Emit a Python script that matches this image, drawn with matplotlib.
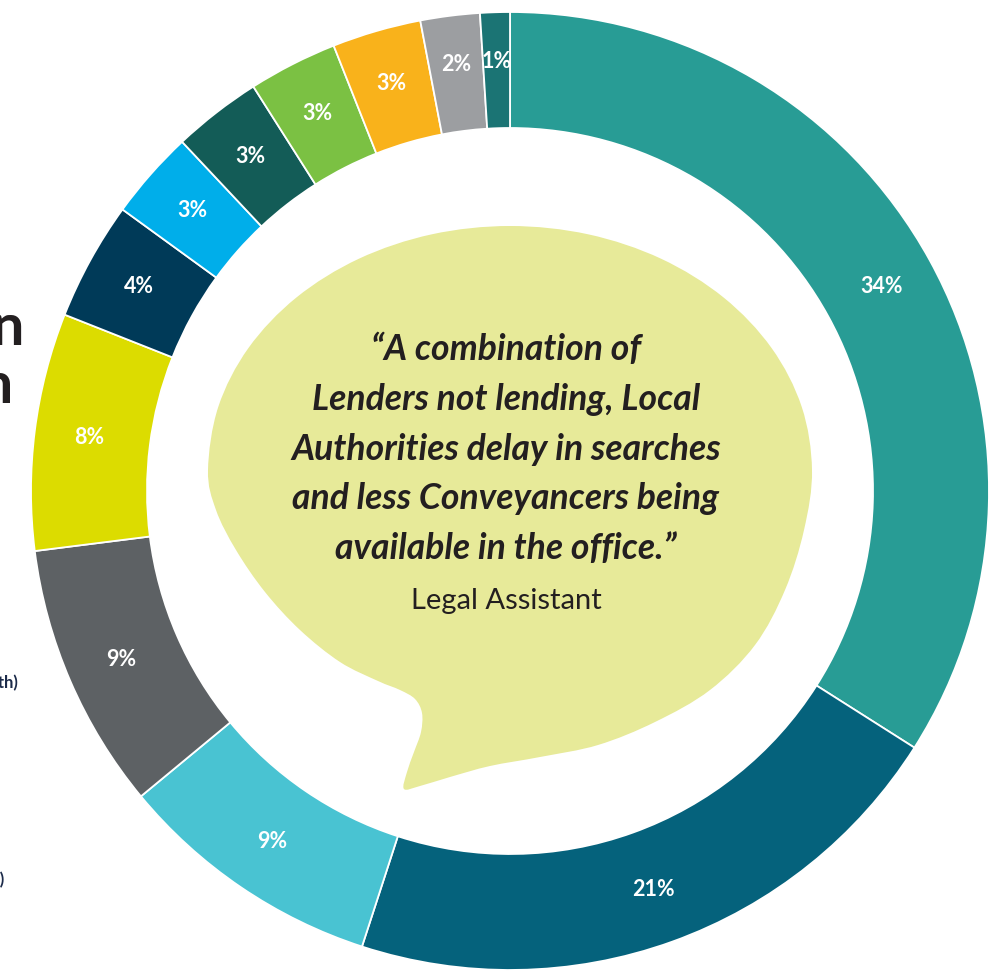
import numpy as np
import matplotlib.pyplot as plt
from matplotlib.path import Path
from matplotlib.patches import PathPatch

plt.rcParams["font.family"] = ["Lato", "DejaVu Sans"]

# share of responses per reason, clockwise from 12 o'clock
shares = [34, 21, 9, 9, 8, 4, 3, 3, 3, 3, 2, 1]
labels = [f"{s}%" for s in shares]
colors = [
    "#289c95", "#05627c", "#49c3d2", "#5d6164", "#dcdc00", "#003a58",
    "#00aeea", "#135c57", "#7bc143", "#f9b21b", "#9c9ea1", "#1b7474",
]

quote_lines = [
    "\u201cA combination of",
    "Lenders not lending, Local",
    "Authorities delay in searches",
    "and less Conveyancers being",
    "available in the office.\u201d",
]
quote_source = "Legal Assistant"

W, H = 1008, 972
CX, CY = 510, 491
R_OUT, R_IN = 479, 363

fig = plt.figure(figsize=(W / 100, H / 100), dpi=100)
ax = fig.add_axes([0, 0, 1, 1])

# y axis runs downward, so counterclock=True turns clockwise on screen
wedges, texts = ax.pie(
    shares,
    labels=labels,
    colors=colors,
    startangle=-90,
    counterclock=True,
    radius=R_OUT,
    center=(CX, CY),
    labeldistance=0.885,
    wedgeprops=dict(width=R_OUT - R_IN, edgecolor="white", linewidth=1.3),
    textprops=dict(color="white", fontsize=15.5, fontweight="bold"),
)
for w, t, s in zip(wedges, texts, shares):
    t.set_horizontalalignment("center")
    t.set_verticalalignment("center")
    if s <= 2:
        # the thinnest slices carry their label a little further out
        mid = np.deg2rad((w.theta1 + w.theta2) / 2)
        t.set_position((CX + 430 * np.cos(mid), CY + 430 * np.sin(mid)))

ax.set_xlim(0, W)
ax.set_ylim(H, 0)
ax.set_aspect("equal")
ax.axis("off")


def closed_spline(pts):
    # periodic Catmull-Rom through the outline points, as cubic beziers
    pts = np.asarray(pts, dtype=float)
    n = len(pts)
    verts = [pts[0]]
    codes = [Path.MOVETO]
    for i in range(n):
        p0, p1 = pts[i - 1], pts[i]
        p2, p3 = pts[(i + 1) % n], pts[(i + 2) % n]
        verts += [p1 + (p2 - p0) / 6, p2 - (p3 - p1) / 6, p2]
        codes += [Path.CURVE4] * 3
    return Path(verts, codes)


# speech bubble: elliptical top half, a fuller lower right and a tail
t = np.deg2rad(np.arange(180, 361, 15))
upper = list(zip(510 + 302 * np.cos(t), 470 + 244 * np.sin(t)))
lower = [
    (804, 530), (785, 590), (755, 645), (710, 690), (655, 722), (598, 745),
    (540, 757), (490, 766), (450, 777), (420, 786), (404, 789), (407, 772),
    (414, 752), (421, 732), (422, 713), (415, 699), (400, 690), (378, 681),
    (340, 662), (300, 630), (265, 592), (236, 550), (216, 510),
]
ax.add_patch(PathPatch(closed_spline(upper + lower), facecolor="#e7ea99",
                       edgecolor="none", zorder=3))

for i, line in enumerate(quote_lines):
    ax.text(506, 360 + 49.8 * i, line, ha="center", va="baseline",
            fontsize=25.6, fontweight="bold", fontstyle="italic",
            color="#231f20", zorder=4)
ax.text(506, 609, quote_source, ha="center", va="baseline",
        fontsize=21, color="#231f20", zorder=4)

# headings and legend text that run in from the left of the page
ax.text(24, 345, "completion", ha="right", va="baseline", fontsize=42,
        fontweight="bold", color="#231f20")
ax.text(13, 403, "transaction", ha="right", va="baseline", fontsize=42,
        fontweight="bold", color="#231f20")
ax.text(18, 688, "(per month)", ha="right", va="baseline", fontsize=12,
        fontweight="bold", color="#1c2b4a")
ax.text(5, 885, "(weeks)", ha="right", va="baseline", fontsize=12,
        fontweight="bold", color="#1c2b4a")

fig.savefig("out.png", dpi=100, facecolor="white")
